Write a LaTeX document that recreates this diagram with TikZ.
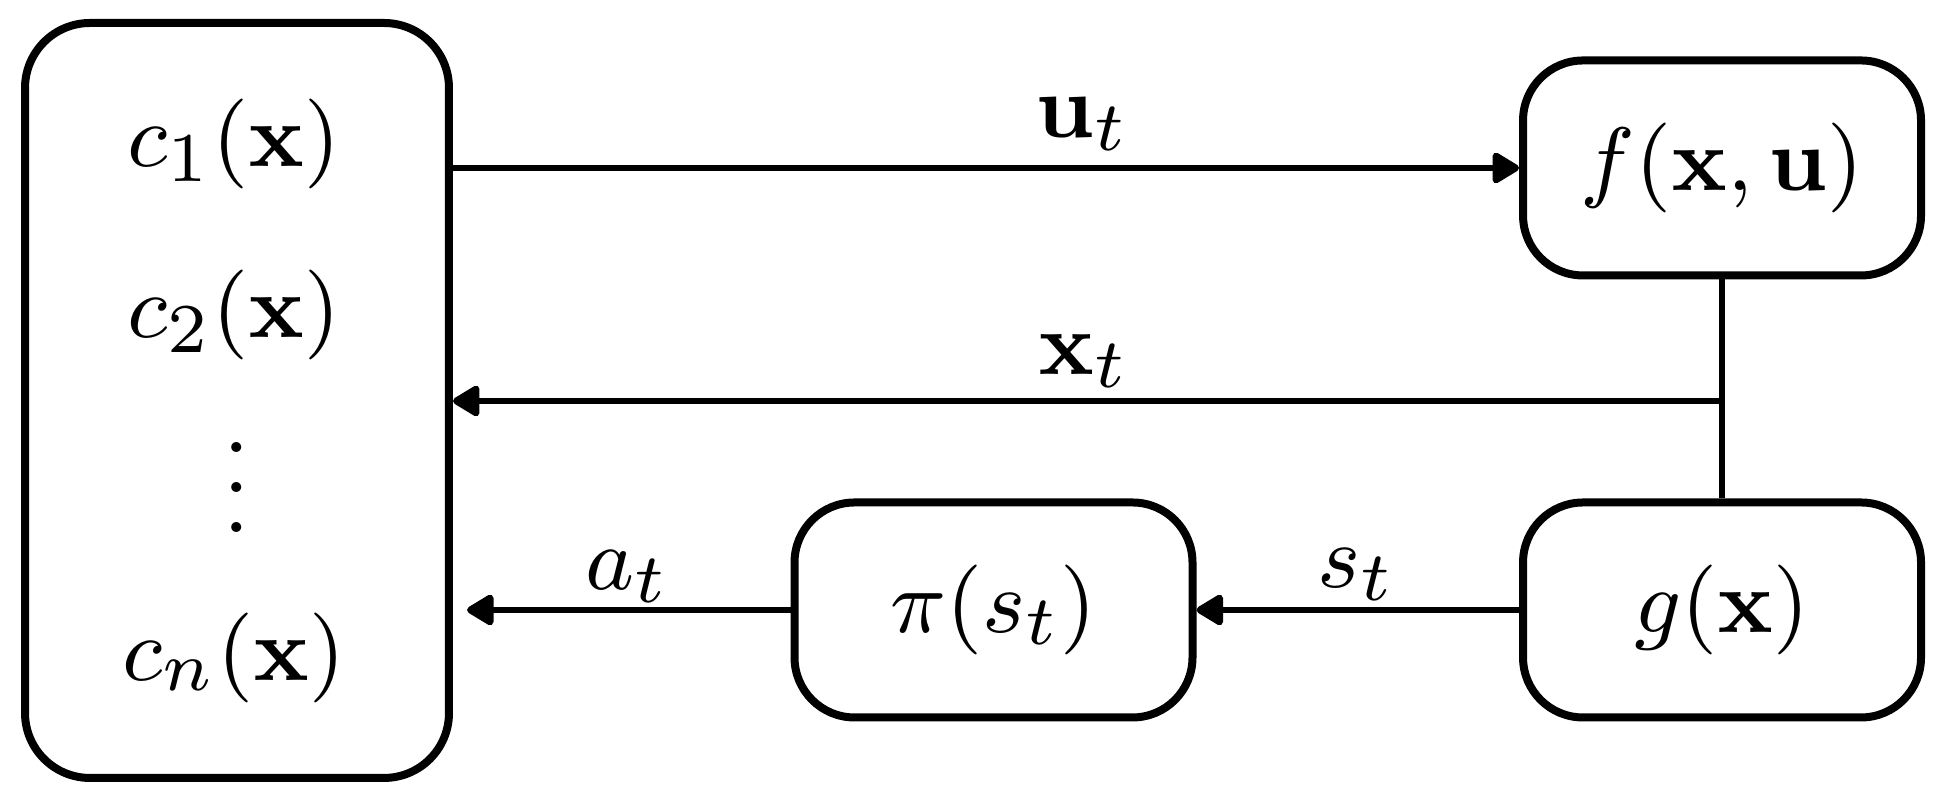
\documentclass[tikz,border=0pt]{standalone}
\usetikzlibrary{arrows.meta}
\newcommand{\fsz}{\fontsize{9.3}{11}\selectfont}
\begin{document}
\begin{tikzpicture}[x=0.1pt,y=-0.1pt,
  box/.style={draw, line width=0.8pt, rounded corners=6pt, minimum width=39.8pt, minimum height=21.5pt, inner sep=0pt, font=\fsz},
  conn/.style={line width=0.68pt},
  arr/.style={conn, -{Triangle[length=3pt,width=3.4pt,round]}},
  lbl/.style={anchor=base, inner sep=0pt, font=\fsz}]
\useasboundingbox (0,0) rectangle (1954,806);
\node[box, minimum width=42.4pt, minimum height=75.5pt, rounded corners=6.5pt] (C) at (237,400.5) {};
\node[box] (f) at (1722,168) {$f(\mathbf{x},\mathbf{u})$};
\node[box] (g) at (1722,610) {$g(\mathbf{x})$};
\node[box] (p) at (993.5,610) {$\pi(s_t)$};
\node[lbl] (c1) at (234,167) {$c_1(\mathbf{x})$};
\node[lbl] (c2) at (234,338) {$c_2(\mathbf{x})$};
\node[lbl] (cd) at (237,533) {$\vdots$};
\node[lbl] (cn) at (234,681) {$c_n(\mathbf{x})$};
\coordinate (j) at (1722,401);
\coordinate (aend) at (467,610);
\draw[arr] (f.west -| C.east) -- (f.west);
\draw[conn] (f.south) -- (g.north);
\draw[arr] (j) -- (j -| C.east);
\draw[arr] (p.west) -- (aend);
\draw[arr] (g.west) -- (p.east);
\node[lbl] (ut) at (1083,138) {$\mathbf{u}_t$};
\node[lbl] (xt) at (1084,375) {$\mathbf{x}_t$};
\node[lbl] (at) at (628,590) {$a_t$};
\node[lbl] (st) at (1357,588) {$s_t$};
\end{tikzpicture}
\end{document}
